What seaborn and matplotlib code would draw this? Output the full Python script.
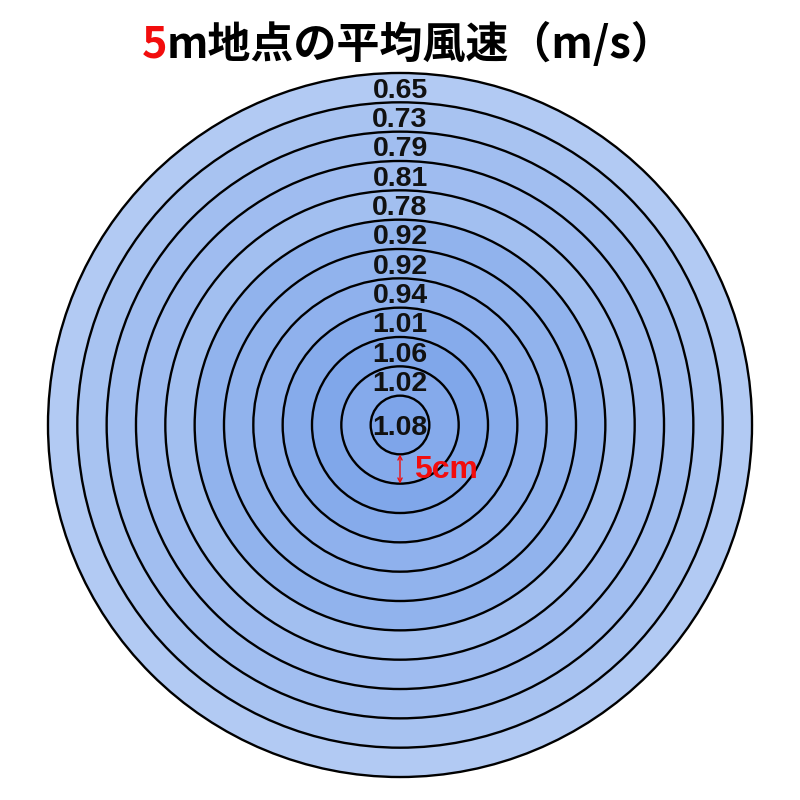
import numpy as np
import matplotlib
matplotlib.use("Agg")
import matplotlib.pyplot as plt
from matplotlib.patches import Circle, FancyArrowPatch
from matplotlib.colors import Normalize
import seaborn as sns

# ---- data (innermost ring first) ----
speeds = [1.08, 1.02, 1.06, 1.01, 0.94, 0.92, 0.92, 0.78, 0.81, 0.79, 0.73, 0.65]
ring_width_cm = 5
title_prefix = "5"
title_rest = "m地点の平均風速（m/s）"
scale_label = "5cm"

sns.set_theme(style="white")
plt.rcParams['font.family'] = ['Liberation Sans', 'DejaVu Sans']

RED = '#f20d0d'

fig = plt.figure(figsize=(8, 8), dpi=100)
ax = fig.add_axes([0, 0, 1, 1])
px = 5.867  # pixels per cm
ax.set_xlim(-400 / px, 400 / px)
ax.set_ylim(-375 / px, 425 / px)
ax.set_aspect('equal')
ax.axis('off')

cmap = sns.blend_palette(["#b2caf3", "#7ea5ea"], as_cmap=True)
norm = Normalize(min(speeds), max(speeds))

n = len(speeds)
for k in range(n - 1, -1, -1):
    r = (k + 1) * ring_width_cm
    ax.add_patch(Circle((0, 0), r, facecolor=cmap(norm(speeds[k])),
                        edgecolor='black', linewidth=1.7, zorder=2))

for k, v in enumerate(speeds):
    y = 0 if k == 0 else k * ring_width_cm + ring_width_cm / 2
    ax.text(0, y - 0.5, f"{v:.2f}", ha='center', va='center', fontsize=20.5,
            fontweight='bold', color='#111111', zorder=5)

# scale arrow
arr = FancyArrowPatch((0, -ring_width_cm), (0, -2 * ring_width_cm),
                      arrowstyle='<->,head_length=3,head_width=1.5',
                      color=RED, linewidth=1, shrinkA=0, shrinkB=0, zorder=6)
ax.add_patch(arr)
ax.text(2.4, -1.5 * ring_width_cm - 0.2, scale_label, ha='left', va='center',
        fontsize=23, fontweight='bold', color=RED, zorder=6)

# title with red prefix
tfont = ['Noto Sans CJK JP', 'DejaVu Sans']
t1 = fig.text(0.5, 0.928, title_prefix, fontsize=31, fontweight='bold',
              color=RED, family=tfont, ha='left', va='baseline')
t2 = fig.text(0.5, 0.928, title_rest, fontsize=31, fontweight='bold',
              color='black', family=tfont, ha='left', va='baseline')
fig.canvas.draw()
r = fig.canvas.get_renderer()
w1 = t1.get_window_extent(r).width / fig.bbox.width
w2 = t2.get_window_extent(r).width / fig.bbox.width
x0 = 0.51 - (w1 + w2) / 2
t1.set_x(x0)
t2.set_x(x0 + w1)

fig.savefig("out.png", dpi=100, facecolor='white')
